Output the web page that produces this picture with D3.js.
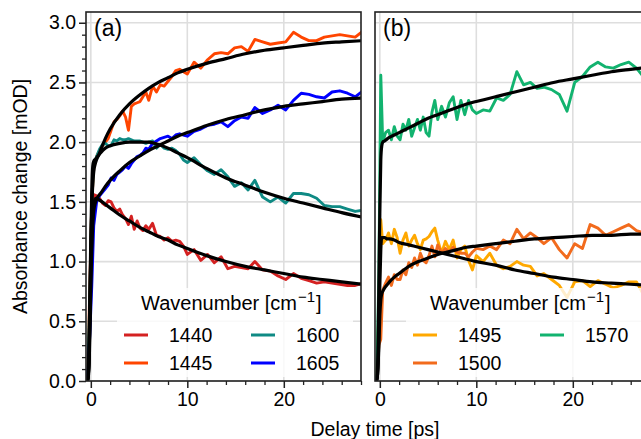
<!DOCTYPE html>
<html>
<head>
<meta charset="utf-8">
<script src="https://cdn.jsdelivr.net/npm/d3@7"></script>
<style>
body { margin: 0; background: #fff; }
svg { display: block; font-family: "Liberation Sans", Arial, sans-serif; }
</style>
</head>
<body>
<svg width="641" height="439"></svg>
<script>
// delay times of the measured points [ps]
var delay = [-0.5, -0.3, -0.1, 0.1, 0.3, 0.6, 0.9, 1.2, 1.5, 1.8,
  2.1, 2.4, 2.7, 3.0, 3.3, 3.6, 3.9, 4.2, 4.5, 4.8,
  5.1, 5.4, 5.7, 6.0, 6.4, 6.8, 7.2, 7.6, 8.0, 8.4,
  8.8, 9.2, 9.6, 10.0, 10.7, 11.4, 12.1, 12.8, 13.5, 14.2,
  14.9, 15.6, 16.3, 17.0, 17.8, 18.6, 19.4, 20.2, 21.0, 21.8,
  22.6, 23.4, 24.2, 25.0, 25.8, 26.6, 27.4, 28.2];

// delay times of the fit curves [ps]
var fitDelay = [-0.5, -0.35, -0.2, -0.1, 0, 0.1, 0.2, 0.3, 0.5, 0.8,
  1, 1.5, 2, 3, 4, 5, 6, 7, 8, 9,
  10, 12, 14, 16, 18, 20, 22, 24, 26, 28.2];

// panel (a) measured absorbance change [mOD]
var abs1440 = [0.00, 0.05, 0.55, 1.30, 1.56, 1.55, 1.53, 1.49, 1.47, 1.51,
  1.50, 1.45, 1.42, 1.44, 1.39, 1.36, 1.31, 1.38, 1.27, 1.34,
  1.28, 1.26, 1.30, 1.27, 1.32, 1.22, 1.21, 1.18, 1.20, 1.17,
  1.18, 1.17, 1.13, 1.06, 1.10, 1.01, 1.06, 0.99, 1.04, 0.94,
  0.96, 0.95, 0.94, 1.00, 0.93, 0.92, 0.88, 0.85, 0.90, 0.86,
  0.84, 0.82, 0.83, 0.82, 0.81, 0.80, 0.80, 0.82];
var abs1445 = [0.00, 0.10, 0.80, 1.50, 1.78, 1.88, 1.93, 1.97, 2.00, 2.03,
  2.10, 2.17, 2.19, 2.22, 2.26, 2.21, 2.10, 2.30, 2.32, 2.33,
  2.34, 2.38, 2.42, 2.35, 2.47, 2.42, 2.48, 2.47, 2.51, 2.55,
  2.60, 2.61, 2.59, 2.57, 2.67, 2.62, 2.69, 2.74, 2.75, 2.74,
  2.79, 2.80, 2.76, 2.86, 2.84, 2.82, 2.83, 2.84, 2.92, 2.88,
  2.85, 2.85, 2.88, 2.89, 2.90, 2.89, 2.88, 2.93];
var abs1600 = [0.00, 0.10, 0.70, 1.50, 1.80, 1.88, 1.94, 1.98, 1.99, 1.97,
  1.97, 2.02, 2.01, 2.03, 2.02, 2.02, 2.03, 2.02, 2.01, 2.01,
  2.01, 2.00, 1.99, 2.00, 2.01, 1.95, 1.98, 1.95, 1.94, 1.95,
  1.93, 1.90, 1.85, 1.83, 1.87, 1.81, 1.76, 1.73, 1.77, 1.71,
  1.63, 1.66, 1.60, 1.68, 1.54, 1.50, 1.54, 1.49, 1.57, 1.57,
  1.56, 1.53, 1.47, 1.46, 1.46, 1.44, 1.42, 1.43];
var abs1605 = [0.00, 0.05, 0.40, 0.80, 1.30, 1.50, 1.55, 1.58, 1.61, 1.64,
  1.70, 1.68, 1.73, 1.75, 1.77, 1.80, 1.78, 1.82, 1.85, 1.88,
  1.89, 1.91, 1.95, 1.94, 1.99, 2.01, 2.03, 2.04, 2.05, 2.03,
  2.06, 2.07, 2.06, 2.05, 2.09, 2.11, 2.14, 2.15, 2.17, 2.13,
  2.18, 2.21, 2.20, 2.29, 2.24, 2.27, 2.31, 2.27, 2.35, 2.41,
  2.40, 2.38, 2.37, 2.42, 2.43, 2.41, 2.38, 2.43];

// panel (a) fits
var fit1440 = [0, 0, 0.15, 0.5, 0.9, 1.2, 1.4, 1.48, 1.53, 1.52,
  1.51, 1.48, 1.45, 1.39, 1.34, 1.29, 1.25, 1.21, 1.18, 1.14,
  1.11, 1.05, 1.00, 0.96, 0.93, 0.90, 0.87, 0.85, 0.83, 0.81];
var fit1445 = [0, 0, 0.15, 0.6, 1.1, 1.45, 1.65, 1.75, 1.83, 1.89,
  1.93, 2.03, 2.11, 2.23, 2.32, 2.39, 2.45, 2.50, 2.54, 2.58,
  2.61, 2.66, 2.70, 2.74, 2.77, 2.79, 2.81, 2.83, 2.84, 2.85];
var fit1600 = [0, 0, 0.2, 0.7, 1.2, 1.6, 1.8, 1.84, 1.86, 1.89,
  1.91, 1.95, 1.97, 1.99, 2.00, 2.00, 2.00, 1.98, 1.95, 1.91,
  1.87, 1.78, 1.70, 1.64, 1.58, 1.53, 1.49, 1.45, 1.41, 1.37];
var fit1605 = [0, 0, 0.1, 0.4, 0.8, 1.1, 1.3, 1.42, 1.50, 1.55,
  1.57, 1.63, 1.68, 1.76, 1.83, 1.88, 1.93, 1.97, 2.01, 2.05,
  2.08, 2.14, 2.19, 2.23, 2.27, 2.30, 2.32, 2.34, 2.36, 2.37];

// panel (b) measured absorbance change [mOD]
var abs1495 = [0.00, 0.05, 0.60, 1.35, 1.15, 1.18, 1.24, 1.15, 1.27, 1.20,
  1.07, 1.18, 1.24, 1.13, 1.18, 1.22, 1.15, 1.10, 1.18, 1.19,
  1.21, 1.25, 1.28, 1.18, 1.07, 1.17, 1.10, 1.18, 1.03, 1.10,
  1.13, 1.01, 0.93, 1.05, 1.00, 1.07, 0.97, 0.94, 0.96, 1.00,
  0.97, 0.96, 0.88, 0.90, 0.85, 0.80, 0.70, 0.83, 0.84, 0.79,
  0.84, 0.81, 0.78, 0.80, 0.83, 0.83, 0.71, 0.75];
var abs1500 = [0.00, 0.05, 0.30, 0.35, 0.76, 0.82, 0.87, 0.80, 0.89, 0.85,
  0.85, 0.93, 0.89, 0.99, 0.95, 1.03, 0.97, 1.07, 1.01, 0.99,
  1.05, 1.13, 1.04, 1.14, 1.07, 1.11, 1.08, 1.12, 1.08, 1.07,
  1.07, 1.04, 1.08, 1.11, 1.10, 1.13, 1.10, 1.18, 1.15, 1.27,
  1.19, 1.24, 1.20, 1.15, 1.20, 1.10, 1.03, 1.15, 1.11, 1.31,
  1.28, 1.22, 1.25, 1.28, 1.31, 1.26, 1.24, 1.27];
var abs1570 = [0.00, 0.05, 0.90, 2.56, 2.00, 2.08, 2.10, 2.02, 2.13, 2.05,
  2.02, 2.15, 2.10, 2.19, 2.05, 2.12, 2.19, 2.10, 2.21, 2.08,
  2.05, 2.25, 2.35, 2.19, 2.30, 2.21, 2.33, 2.38, 2.19, 2.35,
  2.23, 2.35, 2.27, 2.24, 2.27, 2.26, 2.37, 2.35, 2.40, 2.59,
  2.48, 2.50, 2.45, 2.46, 2.44, 2.40, 2.26, 2.50, 2.55, 2.63,
  2.67, 2.63, 2.62, 2.65, 2.67, 2.62, 2.54, 2.60];

// panel (b) fits
var fit1495 = [0, 0, 0.1, 0.4, 0.8, 1.1, 1.2, 1.2, 1.2, 1.19,
  1.19, 1.18, 1.16, 1.14, 1.12, 1.10, 1.08, 1.06, 1.04, 1.02,
  1.00, 0.97, 0.93, 0.90, 0.87, 0.85, 0.83, 0.82, 0.81, 0.80];
var fit1500 = [0, 0, 0.1, 0.3, 0.55, 0.68, 0.73, 0.75, 0.78, 0.81,
  0.83, 0.87, 0.90, 0.96, 1.00, 1.03, 1.06, 1.08, 1.10, 1.12,
  1.13, 1.15, 1.17, 1.19, 1.20, 1.21, 1.22, 1.22, 1.23, 1.23];
var fit1570 = [0, 0, 0.2, 0.8, 1.4, 1.85, 1.97, 2.0, 2.01, 2.03,
  2.04, 2.06, 2.08, 2.12, 2.16, 2.20, 2.23, 2.26, 2.29, 2.32,
  2.34, 2.38, 2.42, 2.46, 2.50, 2.53, 2.56, 2.59, 2.61, 2.63];

var xTicks = [0, 10, 20];
var xMinor = [2, 4, 6, 8, 12, 14, 16, 18, 22, 24, 26, 28];
var yTicks = [0, 0.5, 1, 1.5, 2, 2.5, 3];
var yMinor = d3.range(0, 31).map(function(i) { return i / 10; })
  .filter(function(v) { return Math.round(v * 10) % 5 !== 0; });

var fontSize = 19.5,
    plotTop = 12,
    plotBottom = 381;

var panels = [
  { id: "a", label: "(a)", left: 86, right: 361, showY: true,
    series: [
      { name: "1440", color: "#d42121", data: abs1440, fit: fit1440 },
      { name: "1445", color: "#ff4500", data: abs1445, fit: fit1445 },
      { name: "1600", color: "#0f8a84", data: abs1600, fit: fit1600 },
      { name: "1605", color: "#0000ff", data: abs1605, fit: fit1605 }
    ] },
  { id: "b", label: "(b)", left: 375, right: 650, showY: false,
    series: [
      { name: "1495", color: "#ffa800", data: abs1495, fit: fit1495 },
      { name: "1500", color: "#f26b1d", data: abs1500, fit: fit1500 },
      { name: "1570", color: "#12b36f", data: abs1570, fit: fit1570 }
    ] }
];

var svg = d3.select("svg");

var y = d3.scaleLinear().domain([0, 3.09]).range([plotBottom, plotTop]);

var defs = svg.append("defs");

panels.forEach(function(p) {
  var x = d3.scaleLinear().domain([-0.5, 28]).range([p.left, p.right]);

  defs.append("clipPath")
    .attr("id", "clip" + p.id)
    .append("rect")
    .attr("x", p.left)
    .attr("y", plotTop)
    .attr("width", p.right - p.left)
    .attr("height", plotBottom - plotTop);

  var g = svg.append("g");

  // grid
  g.append("g").selectAll("line")
    .data(xTicks)
    .enter().append("line")
    .attr("x1", function(d) { return x(d); })
    .attr("x2", function(d) { return x(d); })
    .attr("y1", plotTop)
    .attr("y2", plotBottom)
    .attr("stroke", "#dedede")
    .attr("stroke-width", 1.6);

  g.append("g").selectAll("line")
    .data(yTicks)
    .enter().append("line")
    .attr("x1", p.left)
    .attr("x2", p.right)
    .attr("y1", function(d) { return y(d); })
    .attr("y2", function(d) { return y(d); })
    .attr("stroke", "#dedede")
    .attr("stroke-width", 1.6);

  var plot = g.append("g").attr("clip-path", "url(#clip" + p.id + ")");

  var dataLine = d3.line()
    .x(function(d) { return x(d[0]); })
    .y(function(d) { return y(d[1]); });

  var fitLine = d3.line()
    .curve(d3.curveMonotoneX)
    .x(function(d) { return x(d[0]); })
    .y(function(d) { return y(d[1]); });

  p.series.forEach(function(s) {
    plot.append("path")
      .attr("d", dataLine(d3.zip(delay, s.data)))
      .attr("fill", "none")
      .attr("stroke", s.color)
      .attr("stroke-width", 2.9)
      .attr("stroke-linejoin", "round");
  });

  p.series.forEach(function(s) {
    plot.append("path")
      .attr("d", fitLine(d3.zip(fitDelay, s.fit)))
      .attr("fill", "none")
      .attr("stroke", "#000")
      .attr("stroke-width", 3.2)
      .attr("stroke-linejoin", "round");
  });

  // legend
  var legend = g.append("g");
  legend.append("rect")
    .attr("x", p.left + 31)
    .attr("y", 288)
    .attr("width", 236)
    .attr("height", 89)
    .attr("fill", "#fff")
    .attr("opacity", 0.8);

  var title = legend.append("text")
    .attr("x", p.left + 55)
    .attr("y", 310)
    .style("font-size", "20px")
    .attr("fill", "#000");
  title.append("tspan").text("Wavenumber [cm");
  title.append("tspan").attr("dx", 1).attr("dy", -8).style("font-size", "15px").text("\u22121");
  title.append("tspan").attr("dx", 1).attr("dy", 8).text("]");

  p.series.forEach(function(s, i) {
    var col = Math.floor(i / 2),
        row = i % 2,
        lx = p.left + 38 + col * 127,
        ly = 335 + row * 28;
    legend.append("line")
      .attr("x1", lx)
      .attr("x2", lx + 24)
      .attr("y1", ly)
      .attr("y2", ly)
      .attr("stroke", s.color)
      .attr("stroke-width", 3);
    legend.append("text")
      .attr("x", lx + 45)
      .attr("y", ly + 7)
      .style("font-size", fontSize + "px")
      .text(s.name);
  });

  // x axis
  var xAxis = g.append("g")
    .attr("transform", "translate(0," + plotBottom + ")")
    .call(d3.axisBottom(x).tickValues(xTicks).tickSize(7).tickPadding(4)
      .tickFormat(d3.format("d")));
  xAxis.select(".domain").remove();
  xAxis.selectAll("line").attr("stroke", "#222").attr("stroke-width", 1.5);
  xAxis.selectAll("text")
    .style("font-size", fontSize + "px")
    .style("font-family", "'Liberation Sans', Arial, sans-serif")
    .attr("fill", "#000");

  var xAxisMinor = g.append("g")
    .attr("transform", "translate(0," + plotBottom + ")")
    .call(d3.axisBottom(x).tickValues(xMinor).tickSize(4).tickFormat(""));
  xAxisMinor.select(".domain").remove();
  xAxisMinor.selectAll("line").attr("stroke", "#222").attr("stroke-width", 1.3);

  if (p.showY) {
    var yAxis = g.append("g")
      .attr("transform", "translate(" + p.left + ",0)")
      .call(d3.axisLeft(y).tickValues(yTicks).tickSize(7).tickPadding(3)
        .tickFormat(d3.format(".1f")));
    yAxis.select(".domain").remove();
    yAxis.selectAll("line").attr("stroke", "#222").attr("stroke-width", 1.5);
    yAxis.selectAll("text")
      .style("font-size", fontSize + "px")
      .style("font-family", "'Liberation Sans', Arial, sans-serif")
      .attr("fill", "#000");

    var yAxisMinor = g.append("g")
      .attr("transform", "translate(" + p.left + ",0)")
      .call(d3.axisLeft(y).tickValues(yMinor).tickSize(4).tickFormat(""));
    yAxisMinor.select(".domain").remove();
    yAxisMinor.selectAll("line").attr("stroke", "#222").attr("stroke-width", 1.3);
  }

  // spines
  g.append("rect")
    .attr("x", p.left)
    .attr("y", plotTop)
    .attr("width", p.right - p.left)
    .attr("height", plotBottom - plotTop)
    .attr("fill", "none")
    .attr("stroke", "#222")
    .attr("stroke-width", 1.6);

  g.append("text")
    .attr("x", p.left + 8)
    .attr("y", 36)
    .style("font-size", "23px")
    .text(p.label);
});

svg.append("text")
  .attr("transform", "translate(27," + ((plotTop + plotBottom) / 2) + ")rotate(-90)")
  .attr("text-anchor", "middle")
  .style("font-size", fontSize + "px")
  .text("Absorbance change [mOD]");

svg.append("text")
  .attr("x", 375)
  .attr("y", 436)
  .attr("text-anchor", "middle")
  .style("font-size", fontSize + "px")
  .text("Delay time [ps]");
</script>
</body>
</html>
